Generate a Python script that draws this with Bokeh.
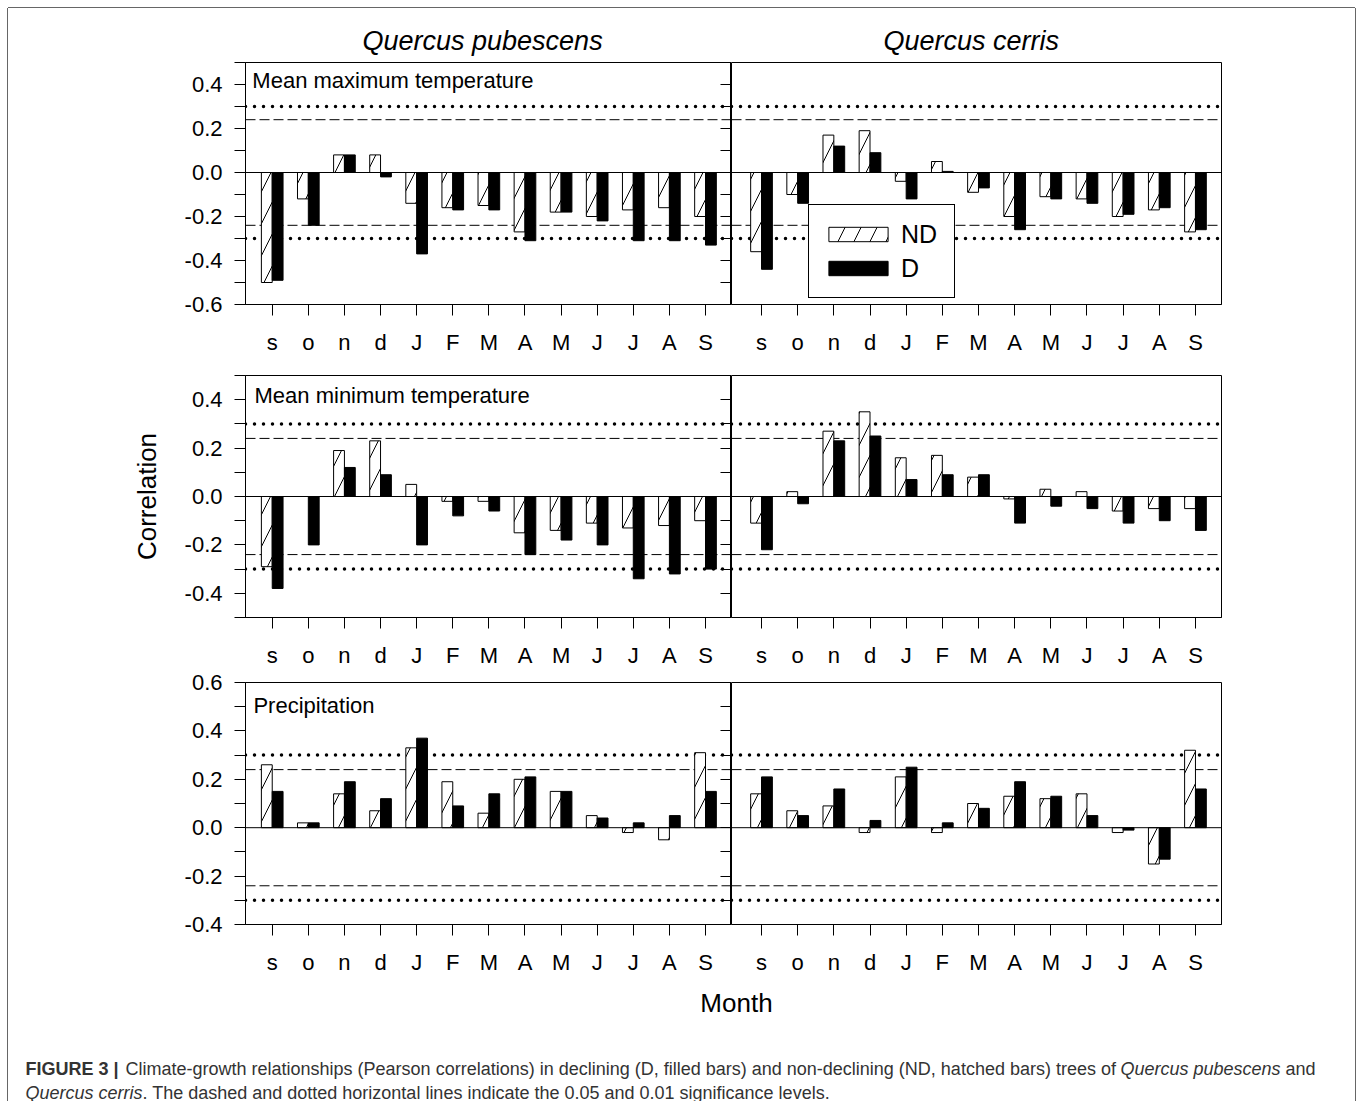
import numpy as np
from bokeh.plotting import figure
from bokeh.models import (Range1d, FixedTicker, LinearAxis, Span, Label, Legend, LegendItem,
                          CustomJSTickFormatter, PrintfTickFormatter)
from bokeh.layouts import column, row
from bokeh.embed import file_html
from bokeh.resources import INLINE

# ---------------- data ----------------
months = ["s", "o", "n", "d", "J", "F", "M", "A", "M", "J", "J", "A", "S"]
species = ["Quercus pubescens", "Quercus cerris"]
variables = ["Mean maximum temperature", "Mean minimum temperature", "Precipitation"]

tmax_pub_nd = [-0.50, -0.12, 0.08, 0.08, -0.14, -0.16, -0.15, -0.27, -0.18, -0.20, -0.17, -0.16, -0.20]
tmax_pub_d = [-0.49, -0.24, 0.08, -0.02, -0.37, -0.17, -0.17, -0.31, -0.18, -0.22, -0.31, -0.31, -0.33]
tmax_cer_nd = [-0.36, -0.10, 0.17, 0.19, -0.04, 0.05, -0.09, -0.20, -0.11, -0.12, -0.20, -0.17, -0.27]
tmax_cer_d = [-0.44, -0.14, 0.12, 0.09, -0.12, 0.005, -0.07, -0.26, -0.12, -0.14, -0.19, -0.16, -0.26]

tmin_pub_nd = [-0.29, 0.0, 0.19, 0.23, 0.05, -0.02, -0.02, -0.15, -0.14, -0.11, -0.13, -0.12, -0.10]
tmin_pub_d = [-0.38, -0.20, 0.12, 0.09, -0.20, -0.08, -0.06, -0.24, -0.18, -0.20, -0.34, -0.32, -0.30]
tmin_cer_nd = [-0.11, 0.02, 0.27, 0.35, 0.16, 0.17, 0.08, -0.01, 0.03, 0.02, -0.06, -0.05, -0.05]
tmin_cer_d = [-0.22, -0.03, 0.23, 0.25, 0.07, 0.09, 0.09, -0.11, -0.04, -0.05, -0.11, -0.10, -0.14]

prec_pub_nd = [0.26, 0.02, 0.14, 0.07, 0.33, 0.19, 0.06, 0.20, 0.15, 0.05, -0.02, -0.05, 0.31]
prec_pub_d = [0.15, 0.02, 0.19, 0.12, 0.37, 0.09, 0.14, 0.21, 0.15, 0.04, 0.02, 0.05, 0.15]
prec_cer_nd = [0.14, 0.07, 0.09, -0.02, 0.21, -0.02, 0.10, 0.13, 0.12, 0.14, -0.02, -0.15, 0.32]
prec_cer_d = [0.21, 0.05, 0.16, 0.03, 0.25, 0.02, 0.08, 0.19, 0.13, 0.05, -0.01, -0.13, 0.16]

sig_05 = 0.24   # dashed
sig_01 = 0.30   # dotted

panels = [
    [(tmax_pub_nd, tmax_pub_d), (tmax_cer_nd, tmax_cer_d)],
    [(tmin_pub_nd, tmin_pub_d), (tmin_cer_nd, tmin_cer_d)],
    [(prec_pub_nd, prec_pub_d), (prec_cer_nd, prec_cer_d)],
]

# ---------------- style / layout constants ----------------
FONT = "Liberation Sans"
Y_RANGES = [(-0.6, 0.5), (-0.5, 0.5), (-0.4, 0.6)]
X_RANGES = [(0.26, 13.72), (0.17, 13.72)]
FRAME_W = [486, 490]
FRAME_H = 242
BORDER_TOP = [54, 12, 12]
BORDER_BOTTOM = [59, 51, 63]
LABEL_POS = [(0.45, 0.418), (0.51, 0.417), (0.48, 0.505)]
TITLE_OFFSET = [117, 152]
BAR_W = 0.3


def make_panel(r, c, nd, d):
    left = c == 0
    y0, y1 = Y_RANGES[r]
    p = figure(frame_width=FRAME_W[c], frame_height=FRAME_H,
               x_range=Range1d(*X_RANGES[c]), y_range=Range1d(y0, y1),
               output_backend="svg", toolbar_location=None,
               y_axis_location="left" if left else None,
               min_border_left=237 if left else 0,
               min_border_right=0 if left else 134,
               min_border_top=BORDER_TOP[r], min_border_bottom=BORDER_BOTTOM[r],
               background_fill_color="white", border_fill_color="white",
               outline_line_color="black", outline_line_width=1)
    p.xgrid.visible = False
    p.ygrid.visible = False

    # significance lines (under bars)
    for v in (sig_01, -sig_01):
        p.add_layout(Span(location=v, dimension="width", line_color="black", line_width=3.5,
                          line_dash="0 9", line_cap="round", level="underlay"))
    for v in (sig_05, -sig_05):
        p.add_layout(Span(location=v, dimension="width", line_color="black", line_width=1,
                          line_dash="10 4", level="underlay"))

    x = np.arange(1, len(months) + 1)
    r_nd = p.vbar(x=x - BAR_W / 2, top=nd, bottom=0, width=BAR_W, fill_color="white",
                  line_color="black", line_width=1, hatch_pattern="/", hatch_color="black",
                  hatch_scale=32, hatch_weight=1)
    r_d = p.vbar(x=x + BAR_W / 2, top=d, bottom=0, width=BAR_W, fill_color="black",
                 line_color="black", line_width=1)
    p.add_layout(Span(location=0, dimension="width", line_color="black", line_width=1))

    # x axis
    xa = p.xaxis[0]
    xa.ticker = FixedTicker(ticks=list(x))
    xa.major_label_overrides = {int(i): m for i, m in zip(x, months)}
    xa.major_tick_out = 11
    xa.major_tick_in = 0
    xa.minor_tick_out = 0
    xa.minor_tick_in = 0
    xa.major_label_standoff = 14
    xa.major_label_text_font = FONT
    xa.major_label_text_font_size = "22px"
    xa.major_label_text_color = "black"
    xa.axis_line_color = "black"
    xa.major_tick_line_color = "black"

    major = [round(v, 1) for v in np.arange(y0 + (0 if r != 1 else 0.1), y1 + 0.001, 0.2)]
    minor = [round(v, 1) for v in np.arange(y0, y1 + 0.001, 0.1)]
    major = [v for v in major if abs(round(v * 10)) % 2 == 0]
    minor = [v for v in minor if v not in major]

    if left:
        ya = p.yaxis[0]
        ya.ticker = FixedTicker(ticks=major, minor_ticks=minor)
        ya.formatter = PrintfTickFormatter(format="%.1f")
        ya.major_tick_out = 11
        ya.major_tick_in = 0
        ya.minor_tick_out = 11
        ya.minor_tick_in = 0
        ya.major_label_standoff = 12
        ya.major_label_text_font = FONT
        ya.major_label_text_font_size = "22px"
        ya.major_label_text_color = "black"
        ya.axis_line_color = "black"
        ya.major_tick_line_color = "black"
        ya.minor_tick_line_color = "black"
        if r == 1:
            ya.axis_label = "Correlation"
            ya.axis_label_text_font = FONT
            ya.axis_label_text_font_size = "26px"
            ya.axis_label_text_font_style = "normal"
            ya.axis_label_text_color = "black"
            ya.axis_label_standoff = 20
        ra = LinearAxis(ticker=FixedTicker(ticks=major, minor_ticks=minor),
                        formatter=CustomJSTickFormatter(code="return ''"),
                        major_tick_in=11, major_tick_out=0, minor_tick_in=11, minor_tick_out=0,
                        major_label_standoff=0, major_label_text_font_size="0px",
                        axis_line_color=None, major_tick_line_color="black",
                        minor_tick_line_color="black")
        p.add_layout(ra, "right")

    lx, ly = LABEL_POS[r]
    if left:
        p.add_layout(Label(x=lx, y=ly, text=variables[r], text_font=FONT, text_font_size="22px",
                           text_baseline="middle", text_align="left", text_color="black"))

    if r == 0:
        p.title.text = species[c]
        p.title.align = "left"
        p.title.offset = TITLE_OFFSET[c]
        p.title.text_font = FONT
        p.title.text_font_size = "27px"
        p.title.text_font_style = "italic"
        p.title.text_color = "black"
        p.title.standoff = 13

    if r == 0 and c == 1:
        legend = Legend(items=[LegendItem(label="ND", renderers=[r_nd]),
                               LegendItem(label="D", renderers=[r_d])],
                        location=(77, 6), orientation="vertical",
                        border_line_color="black", border_line_width=1, border_line_alpha=1,
                        background_fill_color="white", background_fill_alpha=1,
                        label_text_font=FONT, label_text_font_size="25px",
                        label_text_color="black",
                        glyph_width=74, glyph_height=18, label_standoff=6,
                        label_width=41, label_height=34,
                        padding=12, spacing=0, margin=0)
        p.add_layout(legend)
    return p


rows = []
for r in range(3):
    figs = [make_panel(r, c, *panels[r][c]) for c in range(2)]
    rows.append(row(*figs, spacing=0))

# bottom: axis title + caption (pixel coordinates)
fb = figure(width=1347, height=114, x_range=Range1d(0, 1347), y_range=Range1d(114, 0),
            x_axis_type=None, y_axis_type=None, min_border=0, output_backend="svg",
            toolbar_location=None, outline_line_color=None,
            background_fill_color="white", border_fill_color="white")
fb.grid.visible = False
CAP = "#333333"
fb.add_layout(Label(x=728, y=15, text="Month", text_font=FONT, text_font_size="26px",
                    text_align="center", text_baseline="middle", text_color="black"))
caption_parts = [
    (17, 81, "FIGURE 3 |", "bold"),
    (117, 81, "Climate-growth relationships (Pearson correlations) in declining (D, filled bars) and non-declining (ND, hatched bars) trees of", "normal"),
    (1112, 81, "Quercus pubescens", "italic"),
    (1277, 81, "and", "normal"),
    (17, 105, "Quercus cerris", "italic"),
    (134, 105, ". The dashed and dotted horizontal lines indicate the 0.05 and 0.01 significance levels.", "normal"),
]
for cx, cy, t, st in caption_parts:
    fb.add_layout(Label(x=cx, y=cy, text=t, text_font=FONT, text_font_size="18px",
                        text_font_style=st, text_align="left", text_baseline="middle",
                        text_color=CAP))

layout = column(*rows, fb, spacing=0,
                styles={"margin-left": "8px", "margin-top": "8px",
                        "box-shadow": "-1px 0 0 0 #666666, 1px 0 0 0 #666666, 0 -1px 0 0 #666666"})

open("out.html", "w").write(file_html(layout, INLINE))
